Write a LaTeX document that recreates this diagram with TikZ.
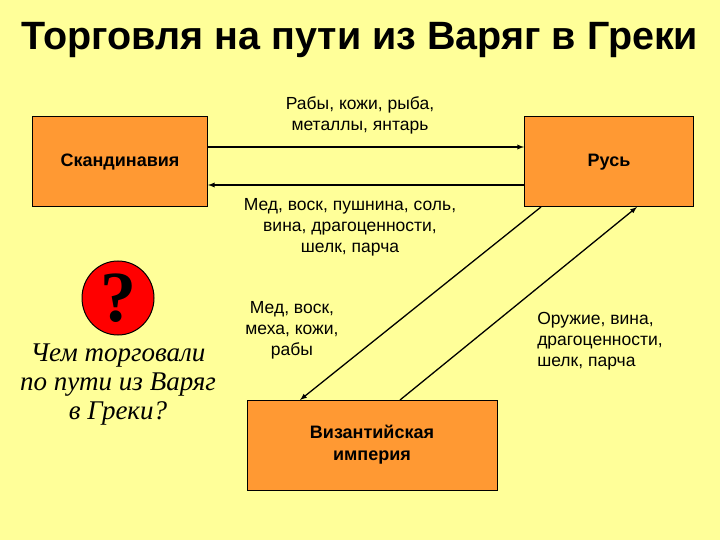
\documentclass[tikz,border=0pt]{standalone}
\usepackage{fontspec}
\usetikzlibrary{shapes.geometric}
\setmainfont{Liberation Sans}
\newfontfamily\serifit{Liberation Serif}
\begin{document}
\begin{tikzpicture}[x=1pt,y=-1pt,
  box/.style={draw=black,fill=boxor,line width=1pt,minimum width=#1,minimum height=90pt,font=\bfseries\fontsize{18}{22}\selectfont,align=center},
  lbl/.style={font=\fontsize{17.5}{21}\selectfont,align=center},
  arr/.style={-latex,line width=1.3pt}]
\definecolor{bg}{HTML}{FFFF99}
\definecolor{boxor}{HTML}{FF9933}
\fill[bg] (0,0) rectangle (720,540);
\useasboundingbox (0,0) rectangle (720,540);
\node[font=\bfseries\fontsize{39.5}{44}\selectfont] (title) at (360,40) {Торговля на пути из Варяг в Греки};
\node[box=175pt] (sk) at (120,162) {Скандинавия};
\node[box=169pt] (rus) at (609,162) {Русь};
\node[box=250pt] (byz) at (372,445) {Византийская\\империя};
\draw[arr] (sk.east|-0,147) coordinate (a1) -- (rus.west|-0,147);
\draw[arr] (rus.west|-0,185) -- (sk.east|-0,185);
\coordinate (r1) at (541,207); \coordinate (b1) at (300,400);
\coordinate (b2) at (400,400); \coordinate (r2) at (637,207);
\draw[arr] (r1) -- (b1);
\draw[arr] (b2) -- (r2);
\node[lbl] (l1) at (360,115) {Рабы, кожи, рыба,\\металлы, янтарь};
\node[lbl] (l2) at (350,227) {Мед, воск, пушнина, соль,\\вина, драгоценности,\\шелк, парча};
\node[lbl] (l3) at (292,330) {Мед, воск,\\меха, кожи,\\рабы};
\node[lbl,align=left] (l4) at (600,341) {Оружие, вина,\\драгоценности,\\шелк, парча};
\node[draw=black,fill=red,ellipse,minimum width=72pt,minimum height=74pt,inner sep=0pt,line width=1pt] (q) at (118,298) {};
\node[font=\serifit\bfseries\fontsize{72}{72}\selectfont] (qm) at (q) {?};
\node[font=\serifit\itshape\fontsize{27}{29}\selectfont,align=center] (qt) at (118,385) {Чем торговали\\по пути из Варяг\\в Греки?};
\end{tikzpicture}
\end{document}
